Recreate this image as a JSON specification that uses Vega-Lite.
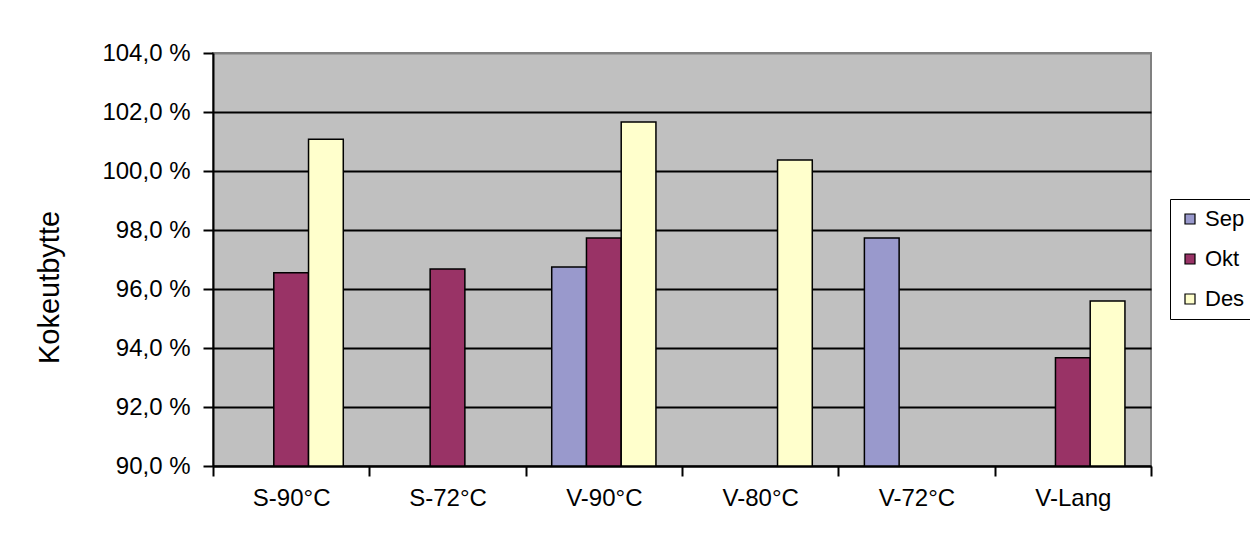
{
  "$schema": "https://vega.github.io/schema/vega-lite/v6.json",
  "width": 938,
  "height": 413,
  "autosize": {"type": "none"},
  "padding": {"left": 213, "top": 53, "right": 99, "bottom": 72},
  "background": "white",
  "config": {
    "font": "Liberation Sans",
    "view": {"fill": "#C0C0C0", "stroke": "#808080", "strokeWidth": 2}
  },
  "data": {
    "values": [
      {"cat": "S-90°C", "month": "Okt", "value": 96.55},
      {"cat": "S-90°C", "month": "Des", "value": 101.08},
      {"cat": "S-72°C", "month": "Okt", "value": 96.68},
      {"cat": "V-90°C", "month": "Sep", "value": 96.75},
      {"cat": "V-90°C", "month": "Okt", "value": 97.73},
      {"cat": "V-90°C", "month": "Des", "value": 101.66},
      {"cat": "V-80°C", "month": "Des", "value": 100.37},
      {"cat": "V-72°C", "month": "Sep", "value": 97.73},
      {"cat": "V-Lang", "month": "Okt", "value": 93.67},
      {"cat": "V-Lang", "month": "Des", "value": 95.59}
    ]
  },
  "mark": {"type": "bar", "stroke": "black", "strokeWidth": 1.5},
  "encoding": {
    "x": {
      "field": "cat",
      "type": "nominal",
      "sort": ["S-90°C", "S-72°C", "V-90°C", "V-80°C", "V-72°C", "V-Lang"],
      "scale": {"paddingInner": 0, "paddingOuter": 0},
      "axis": {
        "title": null,
        "labelAngle": 0,
        "labelFontSize": 24,
        "labelColor": "black",
        "labelPadding": 10,
        "tickBand": "extent",
        "tickSize": 10,
        "tickColor": "black",
        "tickWidth": 2,
        "domainColor": "black",
        "domainWidth": 2,
        "grid": false
      }
    },
    "xOffset": {
      "field": "month",
      "type": "nominal",
      "sort": ["Sep", "Okt", "Des"],
      "scale": {"domain": ["Sep", "Okt", "Des"], "paddingInner": 0, "paddingOuter": 0.75}
    },
    "y": {
      "field": "value",
      "type": "quantitative",
      "scale": {"domain": [90, 104], "zero": false, "nice": false},
      "axis": {
        "values": [90, 92, 94, 96, 98, 100, 102, 104],
        "labelExpr": "replace(format(datum.value, '.1f'), '.', ',') + ' %'",
        "labelFontSize": 24,
        "labelColor": "black",
        "labelPadding": 13,
        "tickSize": 10,
        "tickColor": "black",
        "tickWidth": 2,
        "domainColor": "black",
        "domainWidth": 2,
        "grid": true,
        "gridColor": {"condition": {"test": "datum.value === 104", "value": "#808080"}, "value": "black"},
        "gridWidth": 2,
        "title": "Kokeutbytte",
        "titleFontSize": 29,
        "titleFontWeight": "normal",
        "titleColor": "black",
        "titleX": -164,
        "titleY": 234,
        "titleBaseline": "middle",
        "titleAngle": -90
      }
    },
    "y2": {"datum": 90},
    "color": {
      "field": "month",
      "type": "nominal",
      "scale": {"domain": ["Sep", "Okt", "Des"], "range": ["#9999CC", "#993366", "#FFFFCC"]},
      "legend": {
        "orient": "none",
        "legendX": 957,
        "legendY": 146,
        "title": null,
        "strokeColor": "black",
        "fillColor": "white",
        "padding": 9,
        "symbolType": "square",
        "symbolSize": 100,
        "symbolStrokeColor": "black",
        "symbolStrokeWidth": 1.2,
        "symbolOpacity": 1,
        "labelFontSize": 22,
        "labelColor": "black",
        "labelOffset": 4,
        "labelLimit": 0,
        "rowPadding": 18
      }
    }
  }
}
